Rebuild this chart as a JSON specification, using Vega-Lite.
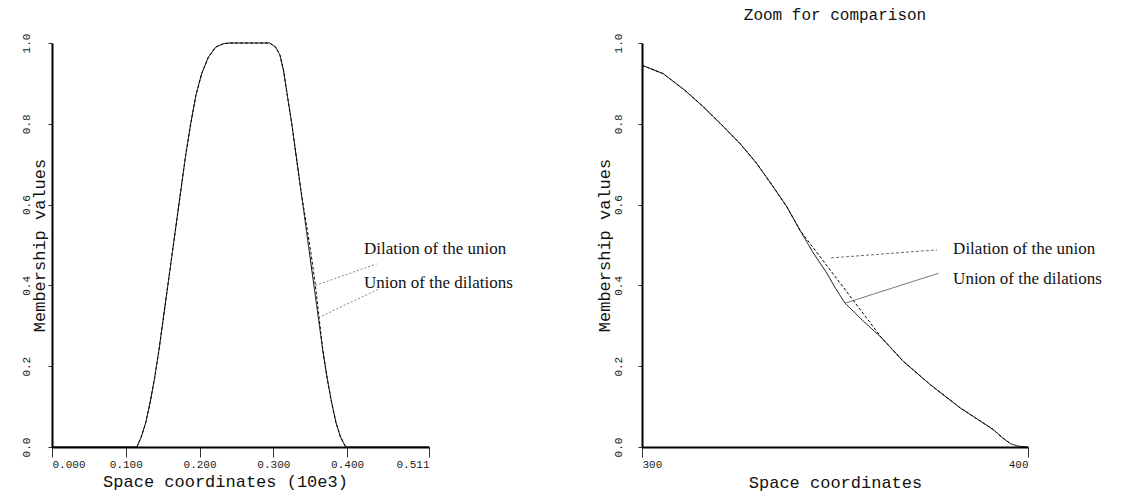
{
  "$schema": "https://vega.github.io/schema/vega-lite/v6.json",
  "background": "white",
  "padding": {"left": 20, "top": 7, "right": 5, "bottom": 5},
  "spacing": 213,
  "bounds": "flush",
  "config": {
    "view": {"stroke": null},
    "axis": {
      "grid": false,
      "labelFont": "Liberation Mono",
      "labelFontSize": 11,
      "labelColor": "#222",
      "titleFont": "Liberation Mono",
      "titleFontSize": 17,
      "titleFontWeight": "normal",
      "titleColor": "#111",
      "domainColor": "black",
      "domainWidth": 2,
      "tickColor": "#333",
      "tickWidth": 1
    },
    "title": {"font": "Liberation Mono", "fontWeight": "normal", "color": "#111"}
  },
  "datasets": {
    "left": [
      {"x": 0.0, "y": 0, "series": "Union of the dilations"},
      {"x": 0.115, "y": 0, "series": "Union of the dilations"},
      {"x": 0.121, "y": 0.025, "series": "Union of the dilations"},
      {"x": 0.127, "y": 0.06, "series": "Union of the dilations"},
      {"x": 0.133, "y": 0.11, "series": "Union of the dilations"},
      {"x": 0.139, "y": 0.17, "series": "Union of the dilations"},
      {"x": 0.145, "y": 0.24, "series": "Union of the dilations"},
      {"x": 0.151, "y": 0.32, "series": "Union of the dilations"},
      {"x": 0.157, "y": 0.4, "series": "Union of the dilations"},
      {"x": 0.163, "y": 0.48, "series": "Union of the dilations"},
      {"x": 0.169, "y": 0.56, "series": "Union of the dilations"},
      {"x": 0.175, "y": 0.64, "series": "Union of the dilations"},
      {"x": 0.181, "y": 0.72, "series": "Union of the dilations"},
      {"x": 0.188, "y": 0.8, "series": "Union of the dilations"},
      {"x": 0.195, "y": 0.87, "series": "Union of the dilations"},
      {"x": 0.203, "y": 0.925, "series": "Union of the dilations"},
      {"x": 0.212, "y": 0.965, "series": "Union of the dilations"},
      {"x": 0.222, "y": 0.99, "series": "Union of the dilations"},
      {"x": 0.232, "y": 0.998, "series": "Union of the dilations"},
      {"x": 0.24, "y": 1.0, "series": "Union of the dilations"},
      {"x": 0.295, "y": 1.0, "series": "Union of the dilations"},
      {"x": 0.303, "y": 0.99, "series": "Union of the dilations"},
      {"x": 0.309, "y": 0.97, "series": "Union of the dilations"},
      {"x": 0.314, "y": 0.93, "series": "Union of the dilations"},
      {"x": 0.319, "y": 0.87, "series": "Union of the dilations"},
      {"x": 0.325, "y": 0.8, "series": "Union of the dilations"},
      {"x": 0.331, "y": 0.72, "series": "Union of the dilations"},
      {"x": 0.337, "y": 0.64, "series": "Union of the dilations"},
      {"x": 0.343, "y": 0.56, "series": "Union of the dilations"},
      {"x": 0.349, "y": 0.48, "series": "Union of the dilations"},
      {"x": 0.355, "y": 0.4, "series": "Union of the dilations"},
      {"x": 0.361, "y": 0.32, "series": "Union of the dilations"},
      {"x": 0.367, "y": 0.24, "series": "Union of the dilations"},
      {"x": 0.373, "y": 0.17, "series": "Union of the dilations"},
      {"x": 0.379, "y": 0.11, "series": "Union of the dilations"},
      {"x": 0.385, "y": 0.06, "series": "Union of the dilations"},
      {"x": 0.391, "y": 0.025, "series": "Union of the dilations"},
      {"x": 0.398, "y": 0.0, "series": "Union of the dilations"},
      {"x": 0.511, "y": 0.0, "series": "Union of the dilations"},
      {"x": 0.115, "y": 0, "series": "Dilation of the union"},
      {"x": 0.121, "y": 0.025, "series": "Dilation of the union"},
      {"x": 0.127, "y": 0.06, "series": "Dilation of the union"},
      {"x": 0.133, "y": 0.11, "series": "Dilation of the union"},
      {"x": 0.139, "y": 0.17, "series": "Dilation of the union"},
      {"x": 0.145, "y": 0.24, "series": "Dilation of the union"},
      {"x": 0.151, "y": 0.32, "series": "Dilation of the union"},
      {"x": 0.157, "y": 0.4, "series": "Dilation of the union"},
      {"x": 0.163, "y": 0.48, "series": "Dilation of the union"},
      {"x": 0.169, "y": 0.56, "series": "Dilation of the union"},
      {"x": 0.175, "y": 0.64, "series": "Dilation of the union"},
      {"x": 0.181, "y": 0.72, "series": "Dilation of the union"},
      {"x": 0.188, "y": 0.8, "series": "Dilation of the union"},
      {"x": 0.195, "y": 0.87, "series": "Dilation of the union"},
      {"x": 0.203, "y": 0.925, "series": "Dilation of the union"},
      {"x": 0.212, "y": 0.965, "series": "Dilation of the union"},
      {"x": 0.222, "y": 0.99, "series": "Dilation of the union"},
      {"x": 0.232, "y": 0.998, "series": "Dilation of the union"},
      {"x": 0.24, "y": 1.0, "series": "Dilation of the union"},
      {"x": 0.295, "y": 1.0, "series": "Dilation of the union"},
      {"x": 0.303, "y": 0.99, "series": "Dilation of the union"},
      {"x": 0.309, "y": 0.97, "series": "Dilation of the union"},
      {"x": 0.314, "y": 0.93, "series": "Dilation of the union"},
      {"x": 0.319, "y": 0.87, "series": "Dilation of the union"},
      {"x": 0.325, "y": 0.8, "series": "Dilation of the union"},
      {"x": 0.331, "y": 0.72, "series": "Dilation of the union"},
      {"x": 0.337, "y": 0.64, "series": "Dilation of the union"},
      {"x": 0.344, "y": 0.56, "series": "Dilation of the union"},
      {"x": 0.351, "y": 0.48, "series": "Dilation of the union"},
      {"x": 0.357, "y": 0.4, "series": "Dilation of the union"},
      {"x": 0.362, "y": 0.32, "series": "Dilation of the union"},
      {"x": 0.367, "y": 0.24, "series": "Dilation of the union"},
      {"x": 0.373, "y": 0.17, "series": "Dilation of the union"},
      {"x": 0.379, "y": 0.11, "series": "Dilation of the union"},
      {"x": 0.385, "y": 0.06, "series": "Dilation of the union"},
      {"x": 0.391, "y": 0.025, "series": "Dilation of the union"},
      {"x": 0.398, "y": 0.0, "series": "Dilation of the union"}
    ],
    "leftLeaders": [
      {"x": 0.357, "y": 0.4, "x2": 0.44, "y2": 0.453},
      {"x": 0.361, "y": 0.32, "x2": 0.443, "y2": 0.391}
    ],
    "leftLabels": [
      {"x": 0.423, "y": 0.49, "label": "Dilation of the union"},
      {"x": 0.423, "y": 0.406, "label": "Union of the dilations"}
    ],
    "right": [
      {"x": 300, "y": 0.945, "series": "Union of the dilations"},
      {"x": 305.5, "y": 0.924, "series": "Union of the dilations"},
      {"x": 311.1, "y": 0.883, "series": "Union of the dilations"},
      {"x": 315.9, "y": 0.842, "series": "Union of the dilations"},
      {"x": 321.1, "y": 0.793, "series": "Union of the dilations"},
      {"x": 325.4, "y": 0.751, "series": "Union of the dilations"},
      {"x": 329.7, "y": 0.702, "series": "Union of the dilations"},
      {"x": 334.0, "y": 0.644, "series": "Union of the dilations"},
      {"x": 337.5, "y": 0.595, "series": "Union of the dilations"},
      {"x": 340.9, "y": 0.537, "series": "Union of the dilations"},
      {"x": 344.4, "y": 0.48, "series": "Union of the dilations"},
      {"x": 347.9, "y": 0.43, "series": "Union of the dilations"},
      {"x": 350.0, "y": 0.395, "series": "Union of the dilations"},
      {"x": 352.6, "y": 0.356, "series": "Union of the dilations"},
      {"x": 357.4, "y": 0.311, "series": "Union of the dilations"},
      {"x": 362.1, "y": 0.27, "series": "Union of the dilations"},
      {"x": 367.7, "y": 0.212, "series": "Union of the dilations"},
      {"x": 374.6, "y": 0.155, "series": "Union of the dilations"},
      {"x": 382.4, "y": 0.097, "series": "Union of the dilations"},
      {"x": 388.0, "y": 0.062, "series": "Union of the dilations"},
      {"x": 391.0, "y": 0.043, "series": "Union of the dilations"},
      {"x": 393.5, "y": 0.022, "series": "Union of the dilations"},
      {"x": 395.5, "y": 0.008, "series": "Union of the dilations"},
      {"x": 397.5, "y": 0.002, "series": "Union of the dilations"},
      {"x": 400, "y": 0.0, "series": "Union of the dilations"},
      {"x": 300, "y": 0.945, "series": "Dilation of the union"},
      {"x": 305.5, "y": 0.924, "series": "Dilation of the union"},
      {"x": 311.1, "y": 0.883, "series": "Dilation of the union"},
      {"x": 315.9, "y": 0.842, "series": "Dilation of the union"},
      {"x": 321.1, "y": 0.793, "series": "Dilation of the union"},
      {"x": 325.4, "y": 0.751, "series": "Dilation of the union"},
      {"x": 329.7, "y": 0.702, "series": "Dilation of the union"},
      {"x": 334.0, "y": 0.644, "series": "Dilation of the union"},
      {"x": 337.5, "y": 0.595, "series": "Dilation of the union"},
      {"x": 340.9, "y": 0.537, "series": "Dilation of the union"},
      {"x": 362.1, "y": 0.27, "series": "Dilation of the union"},
      {"x": 367.7, "y": 0.212, "series": "Dilation of the union"},
      {"x": 374.6, "y": 0.155, "series": "Dilation of the union"},
      {"x": 382.4, "y": 0.097, "series": "Dilation of the union"},
      {"x": 388.0, "y": 0.062, "series": "Dilation of the union"},
      {"x": 391.0, "y": 0.043, "series": "Dilation of the union"},
      {"x": 393.5, "y": 0.022, "series": "Dilation of the union"},
      {"x": 395.5, "y": 0.008, "series": "Dilation of the union"}
    ],
    "rightLeaders": [
      {"x": 349.0, "y": 0.468, "x2": 376.4, "y2": 0.488, "series": "Dilation of the union"},
      {"x": 352.6, "y": 0.356, "x2": 376.8, "y2": 0.43, "series": "Union of the dilations"}
    ],
    "rightLabels": [
      {"x": 380.6, "y": 0.489, "label": "Dilation of the union"},
      {"x": 380.6, "y": 0.415, "label": "Union of the dilations"}
    ]
  },
  "hconcat": [
    {
      "width": 377,
      "height": 404,
      "layer": [
        {
          "data": {"name": "left"},
          "mark": {"type": "line", "color": "black", "strokeWidth": 1},
          "encoding": {
            "x": {
              "field": "x", "type": "quantitative",
              "scale": {"domain": [0, 0.511], "nice": false, "zero": false},
              "axis": {"values": [0, 0.1, 0.2, 0.3, 0.4, 0.511], "format": ".3f", "title": "Space coordinates (10e3)", "tickSize": 10, "labelPadding": 1, "titlePadding": 4, "titleX": 173, "titleAlign": "center"}
            },
            "y": {
              "field": "y", "type": "quantitative",
              "scale": {"domain": [0, 1], "nice": false},
              "axis": {"values": [0, 0.2, 0.4, 0.6, 0.8, 1], "format": ".1f", "title": "Membership values", "labelAngle": -90, "labelAlign": "center", "labelBaseline": "middle", "tickSize": 4, "labelPadding": 22, "titleX": -13, "titleAngle": -90, "titleBaseline": "middle", "titleAlign": "center"}
            },
            "strokeDash": {
              "field": "series", "type": "nominal",
              "scale": {"domain": ["Dilation of the union", "Union of the dilations"], "range": [[3, 2], [1, 0]]},
              "legend": null
            }
          }
        },
        {
          "data": {"name": "leftLeaders"},
          "mark": {"type": "rule", "color": "#666", "strokeWidth": 0.8, "strokeDash": [2, 2]},
          "encoding": {
            "x": {"field": "x", "type": "quantitative"},
            "y": {"field": "y", "type": "quantitative"},
            "x2": {"field": "x2"},
            "y2": {"field": "y2"}
          }
        },
        {
          "data": {"name": "leftLabels"},
          "mark": {"type": "text", "align": "left", "baseline": "middle", "font": "Liberation Serif", "fontSize": 17, "color": "#111"},
          "encoding": {
            "x": {"field": "x", "type": "quantitative"},
            "y": {"field": "y", "type": "quantitative"},
            "text": {"field": "label"}
          }
        }
      ]
    },
    {
      "title": {"text": "Zoom for comparison", "fontSize": 16, "offset": 10, "anchor": "middle"},
      "width": 386,
      "height": 404,
      "layer": [
        {
          "data": {"name": "right"},
          "mark": {"type": "line", "color": "black", "strokeWidth": 1},
          "encoding": {
            "x": {
              "field": "x", "type": "quantitative",
              "scale": {"domain": [300, 400], "nice": false, "zero": false},
              "axis": {"values": [300, 400], "format": "d", "title": "Space coordinates", "tickSize": 10, "labelPadding": 1, "titlePadding": 5}
            },
            "y": {
              "field": "y", "type": "quantitative",
              "scale": {"domain": [0, 1], "nice": false},
              "axis": {"values": [0, 0.2, 0.4, 0.6, 0.8, 1], "format": ".1f", "title": "Membership values", "labelAngle": -90, "labelAlign": "center", "labelBaseline": "middle", "tickSize": 4, "labelPadding": 20, "titleX": -38, "titleAngle": -90, "titleBaseline": "middle", "titleAlign": "center"}
            },
            "strokeDash": {
              "field": "series", "type": "nominal",
              "scale": {"domain": ["Dilation of the union", "Union of the dilations"], "range": [[2, 2], [1, 0]]},
              "legend": null
            }
          }
        },
        {
          "data": {"name": "rightLeaders"},
          "mark": {"type": "rule", "color": "#444", "strokeWidth": 0.8},
          "encoding": {
            "x": {"field": "x", "type": "quantitative"},
            "y": {"field": "y", "type": "quantitative"},
            "x2": {"field": "x2"},
            "y2": {"field": "y2"},
            "strokeDash": {
              "field": "series", "type": "nominal",
              "scale": {"domain": ["Dilation of the union", "Union of the dilations"], "range": [[6, 4], [1, 0]]},
              "legend": null
            }
          }
        },
        {
          "data": {"name": "rightLabels"},
          "mark": {"type": "text", "align": "left", "baseline": "middle", "font": "Liberation Serif", "fontSize": 17, "color": "#111"},
          "encoding": {
            "x": {"field": "x", "type": "quantitative"},
            "y": {"field": "y", "type": "quantitative"},
            "text": {"field": "label"}
          }
        }
      ]
    }
  ]
}
